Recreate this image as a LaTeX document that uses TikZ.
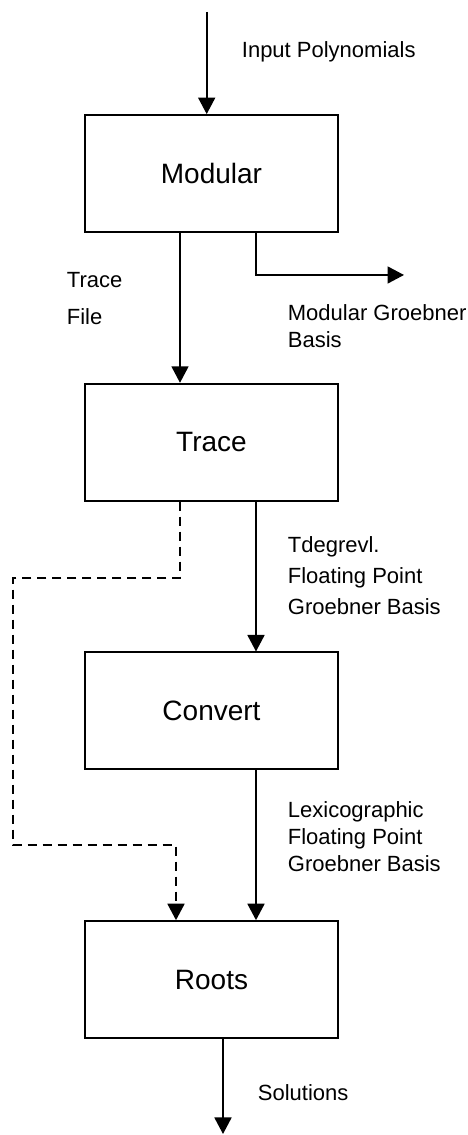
\documentclass[tikz,border=0pt]{standalone}
\usepackage{fontspec}
\setmainfont{Liberation Sans}
\usetikzlibrary{arrows.meta}
\tikzstyle{block} = [rectangle, draw, line width=1.8pt, minimum width=253pt,
    minimum height=117pt, font=\fontsize{28}{34}\selectfont]
\tikzstyle{lbl} = [anchor=west, align=left, inner sep=0pt,
    font=\fontsize{22}{27}\selectfont]

\begin{document}
\begin{tikzpicture}[x=1pt,y=1pt,->,>={Triangle[width=17pt,length=16.5pt]},
                    line width=1.8pt,node distance=268.7pt]
  \useasboundingbox (0,0) rectangle (468,1135);
  \node[block] (mod) at (211.5,961.5) {Modular};
  \node[block,below of=mod] (trace) {Trace};
  \node[block,below of=trace] (conv) {Convert};
  \node[block,below of=conv] (roots) {Roots};

  \coordinate (in) at (206.7,1123);
  \coordinate (modout) at (404,860);
  \coordinate (dl) at (13,557);
  \coordinate (dr) at (176,290);
  \coordinate (out) at (223,1);

  \node[lbl] (inlbl) at (241,1083) {Input Polynomials};
  \node[lbl] (filelbl) at (66,836.5) {Trace\\[10pt]File};
  \node[lbl] (mgblbl) at (287,808.5) {Modular Groebner\\Basis};
  \node[lbl] (tdeglbl) at (287,559) {Tdegrevl.\\[4pt]Floating Point\\[4pt]Groebner Basis};
  \node[lbl] (lexlbl) at (287,298.5) {Lexicographic\\Floating Point\\Groebner Basis};
  \node[lbl] (sollbl) at (257,42) {Solutions};

  \draw (in) -- ([xshift=-4.8pt]mod.north);
  \draw ([xshift=-31.5pt]mod.south) -- ([xshift=-31.5pt]trace.north);
  \draw ([xshift=44.5pt]mod.south) |- (modout);
  \draw ([xshift=44.5pt]trace.south) -- ([xshift=44.5pt]conv.north);
  \draw ([xshift=44.5pt]conv.south) -- ([xshift=44.5pt]roots.north);
  \draw[dash pattern=on 9pt off 6pt] ([xshift=-31.5pt]trace.south) |- (dl)
        |- (dr) -- ([xshift=-35.5pt]roots.north); % trace file reused
  \draw ([xshift=11.5pt]roots.south) -- (out);
\end{tikzpicture}
\end{document}
